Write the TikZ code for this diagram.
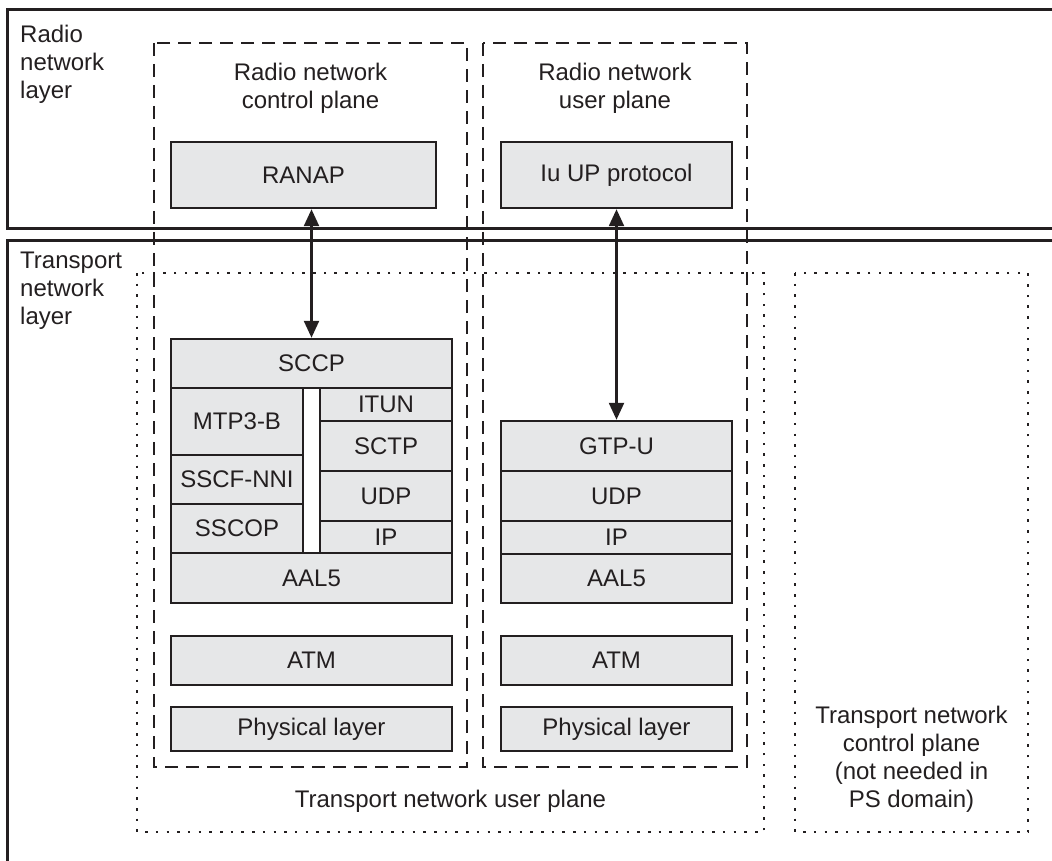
\documentclass[tikz,border=0pt]{standalone}
\usepackage{fontspec}
\setmainfont{Liberation Sans}
\usetikzlibrary{arrows.meta}
\definecolor{ink}{HTML}{231F20}
\definecolor{boxgray}{HTML}{E6E7E8}
\newcommand\lbox[6]{\node[layerbox, minimum width={(#4)-(#2)}, minimum height={(#5)-(#3)}] (#1) at ({((#2)+(#4))/2},{((#3)+(#5))/2}) {#6};}
\begin{document}
\begin{tikzpicture}[x=1pt,y=-1pt,
  every node/.style={font=\fontsize{24}{28}\selectfont, text=ink, inner sep=0pt},
  layerbox/.style={draw=ink, fill=boxgray, line width=2.5pt},
  frame/.style={draw=ink, line width=3pt},
  dashedbox/.style={draw=ink, line width=2.5pt, dash pattern=on 13pt off 8pt},
  dottedbox/.style={draw=ink, line width=2.5pt, dash pattern=on 2.5pt off 8.2pt},
  link/.style={draw=ink, line width=2.5pt, {Triangle[length=17pt,width=15pt]}-{Triangle[length=17pt,width=15pt]}}
]
\useasboundingbox (0,0) rectangle (1052,861);

% layer frames
\draw[frame] (1052,10) -- (7,10) -- (7,229) -- (1052,229);
\draw[frame] (1052,240) -- (7,240) -- (7,861);

% dotted transport planes
\draw[dottedbox] (137,273) rectangle (764,832);
\draw[dottedbox] (795,273) rectangle (1028,832);

% dashed radio planes
\draw[dashedbox] (154,43) rectangle (467,767);
\draw[dashedbox] (483,43) rectangle (747,767);

% labels
\node[anchor=north west, align=left] (rnl) at (20,24.5) {Radio\\network\\layer};
\node[anchor=north west, align=left] (tnl) at (20,251.5) {Transport\\network\\layer};
\node[anchor=north, align=center] (rncp) at (310.5,62.5) {Radio network\\control plane};
\node[anchor=north, align=center] (rnup) at (615,62.5) {Radio network\\user plane};
\node[anchor=base] (tnup) at (450.5,807.5) {Transport network user plane};
\node[anchor=north, align=center] (tncp) at (911.5,705.8) {Transport network\\control plane\\(not needed in\\PS domain)};

% control plane stack
\lbox{ranap}{171}{142}{436}{208}{RANAP}
\lbox{sccp}{171}{339}{452}{388}{SCCP}
\lbox{mtp}{171}{388}{303}{455}{MTP3-B}
\lbox{sscf}{171}{455}{303}{504}{SSCF-NNI}
\lbox{sscop}{171}{504}{303}{553}{SSCOP}
\lbox{itun}{320}{388}{452}{421}{ITUN}
\lbox{sctp}{320}{421}{452}{471}{SCTP}
\lbox{udpa}{320}{471}{452}{521}{UDP}
\lbox{ipa}{320}{521}{452}{553}{IP}
\lbox{aala}{171}{553}{452}{603}{AAL5}
\lbox{atma}{171}{636}{452}{685}{ATM}
\lbox{phya}{171}{707}{452}{751}{Physical layer}

% user plane stack
\lbox{iuup}{501}{142}{732}{208}{Iu UP protocol}
\lbox{gtpu}{501}{421}{732}{471}{GTP-U}
\lbox{udpb}{501}{471}{732}{521}{UDP}
\lbox{ipb}{501}{521}{732}{554}{IP}
\lbox{aalb}{501}{554}{732}{603}{AAL5}
\lbox{atmb}{501}{636}{732}{685}{ATM}
\lbox{phyb}{501}{707}{732}{751}{Physical layer}

% links
\draw[link] (sccp.north |- ranap.south) -- (sccp.north);
\draw[link] (gtpu.north |- iuup.south) -- (gtpu.north);
\end{tikzpicture}
\end{document}
